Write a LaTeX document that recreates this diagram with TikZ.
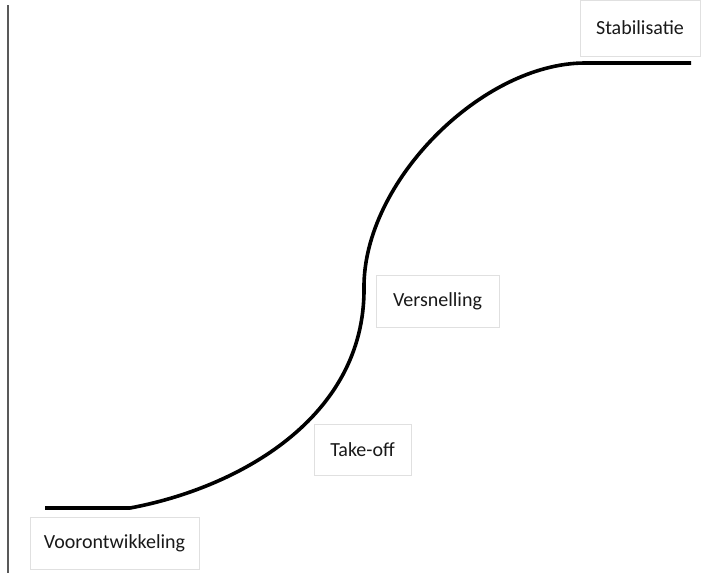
\documentclass[tikz,border=0pt]{standalone}
\usepackage{fontspec}
\setmainfont{Carlito}
\begin{document}
\begin{tikzpicture}[x=1pt,y=-1pt,
  phase/.style={draw=black!12, line width=0.6pt, fill=white, inner sep=0pt,
    font=\fontsize{20}{23}\selectfont, text=black!90},
  scurve/.style={line width=3.6pt, line cap=butt, line join=round}]
\useasboundingbox (0,0) rectangle (709,573);
% left axis
\coordinate (axtop) at (8,5);
\coordinate (axbot) at (8,573);
\draw[black!65, line width=1.6pt] (axtop) -- (axbot);
% S-curve
\coordinate (s0) at (45,508);
\coordinate (s1) at (130,508);
\coordinate (s2) at (364,288);
\coordinate (s3) at (585,63);
\coordinate (s4) at (691,63);
\draw[scurve] (s0) -- (s1)
  .. controls (238,488) and (365,418) .. (s2)
  .. controls (363,182) and (482,63) .. (s3) -- (s4);
% labels
\node[phase, minimum width=169pt, minimum height=52pt] (voor) at (114.5,543) {Voorontwikkeling};
\node[phase, minimum width=97pt, minimum height=51pt] (take) at (362.5,449.5) {Take-off};
\node[phase, minimum width=123pt, minimum height=52pt] (vers) at (437.5,301) {Versnelling};
\node[phase, minimum width=120pt, minimum height=56pt] (stab) at (640,28) {Stabilisatie};
\end{tikzpicture}
\end{document}
